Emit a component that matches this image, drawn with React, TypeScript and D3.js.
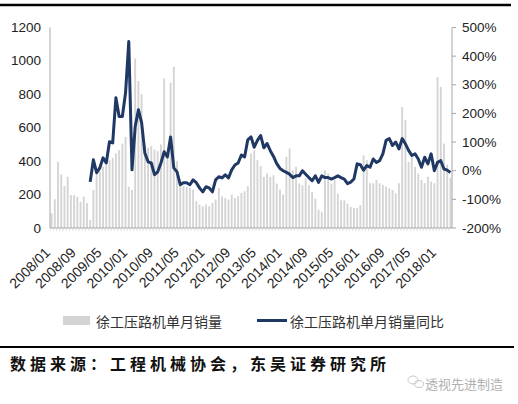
import React from 'react';
import * as d3 from 'd3';

// monthly sales of XCMG road rollers, 2008/01 - 2018/05
const sales2008 = [88, 172, 396, 322, 251, 306, 197, 197, 187, 157, 187, 149];
const sales2009 = [48, 227, 328, 340, 367, 377, 406, 420, 446, 466, 505, 545];
const sales2010 = [247, 228, 1015, 880, 800, 490, 480, 490, 470, 460, 500, 895];
const sales2011 = [455, 870, 965, 400, 260, 250, 245, 240, 230, 160, 140, 130];
const sales2012 = [140, 130, 150, 170, 240, 190, 180, 170, 200, 180, 190, 210];
const sales2013 = [220, 250, 446, 466, 406, 370, 306, 326, 306, 316, 266, 230];
const sales2014 = [200, 426, 476, 346, 366, 266, 256, 296, 256, 216, 176, 110];
const sales2015 = [97, 346, 326, 266, 286, 206, 166, 166, 146, 126, 120, 120];
const sales2016 = [137, 436, 406, 268, 268, 288, 268, 258, 248, 238, 228, 208];
const sales2017 = [268, 724, 645, 396, 426, 366, 326, 288, 268, 306, 278, 268];
const sales2018 = [903, 844, 505, 380, 300];

// year-on-year growth (%), from 2009/01
const yoy = [
  -39, 38, -7, 10, 45, 27, 101, 97, 255, 189, 189, 272,
  451, 3, 154, 213, 167, 62, 31, 27, -14, -4, 27, 66,
  48, 118, 10, -4, -49, -42, -42, -49, -32, -42, -60, -74,
  -56, -60, -74, -32, -21, -25, -14, -25, 3, 20, 27, 55,
  48, 108, 118, 82, 106, 123, 80, 95, 70, 50, 25, 8,
  0, -6, -12, -24, -18, -18, 0, -12, -24, -35, -18, -41,
  -18, -24, -24, -29, -24, -18, -24, -29, -45, -40, -29, 24,
  21, 2, 18, 12, 41, 29, 35, 59, 106, 112, 88, 100,
  76, 112, 94, 71, 53, 59, 41, 12, 47, 24, 59, 0,
  29, 35, 6, 2, -6,
];

const sales = [
  ...sales2008, ...sales2009, ...sales2010, ...sales2011, ...sales2012, ...sales2013,
  ...sales2014, ...sales2015, ...sales2016, ...sales2017, ...sales2018,
];

const months = sales.map((_, i) => {
  const y = 2008 + Math.floor(i / 12);
  const m = (i % 12) + 1;
  return `${y}/${m < 10 ? '0' + m : m}`;
});

const tickLabels = [
  '2008/01', '2008/09', '2009/05', '2010/01', '2010/09', '2011/05', '2012/01', '2012/09',
  '2013/05', '2014/01', '2014/09', '2015/05', '2016/01', '2016/09', '2017/05', '2018/01',
];
const leftTicks = [0, 200, 400, 600, 800, 1000, 1200];
const rightTicks = [-200, -100, 0, 100, 200, 300, 400, 500];

const barName = '徐工压路机单月销量';
const lineName = '徐工压路机单月销量同比';
const source = '数据来源：工程机械协会，东吴证券研究所';

const W = 518;
const H = 404;
const plot = { left: 50, right: 452, top: 27.5, bottom: 228 };

const App: React.FC = () => {
  const x = d3.scaleBand().domain(months).range([plot.left, plot.right]).paddingInner(0.42).paddingOuter(0.2);
  const yL = d3.scaleLinear().domain([0, 1200]).range([plot.bottom, plot.top]);
  const yR = d3.scaleLinear().domain([-200, 500]).range([plot.bottom, plot.top]);
  const cx = (m: string) => (x(m) || 0) + x.bandwidth() / 2;

  const lineData = yoy.map((v, i) => ({ m: months[12 + i], v }));
  const path = d3.line<{ m: string; v: number }>()
    .x(d => cx(d.m))
    .y(d => yR(d.v))(lineData) || '';

  const axisColor = '#a6a6a6';
  const font = 'Liberation Sans, Arial, sans-serif';
  const cjk = '"Noto Sans CJK SC", sans-serif';

  return (
    <svg width={W} height={H} style={{ position: 'absolute', left: 0, top: 0, background: '#fff' }}>
      {/* top rule */}
      <line x1={0} x2={511} y1={5} y2={5} stroke="#000" strokeWidth={2.5} />

      {/* bars */}
      {sales.map((v, i) => (
        <rect key={i} x={x(months[i])} y={yL(v)} width={x.bandwidth()} height={plot.bottom - yL(v)} fill="#d4d4d4" />
      ))}

      {/* axes */}
      <line x1={plot.left} x2={plot.left} y1={plot.top} y2={plot.bottom} stroke={axisColor} />
      <line x1={plot.right} x2={plot.right} y1={plot.top} y2={plot.bottom} stroke={axisColor} />
      <line x1={plot.left} x2={plot.right} y1={plot.bottom} y2={plot.bottom} stroke={axisColor} />
      {months.map(m => (
        <line key={m} x1={(x(m) || 0) - 0.5} x2={(x(m) || 0) - 0.5} y1={plot.bottom} y2={plot.bottom + 3}
          stroke="#cfcfcf" strokeWidth={0.6} />
      ))}

      {leftTicks.map(t => (
        <text key={t} x={41} y={yL(t)} textAnchor="end" dominantBaseline="central" fontSize={13.5} fontFamily={font} fill="#222">
          {t}
        </text>
      ))}
      {rightTicks.map(t => (
        <g key={t}>
          <line x1={plot.right} x2={plot.right + 4} y1={yR(t)} y2={yR(t)} stroke={axisColor} />
          <text x={462} y={yR(t)} dominantBaseline="central" fontSize={13.5} fontFamily={font} fill="#222">
            {`${t}%`}
          </text>
        </g>
      ))}

      {/* line */}
      <path d={path} fill="none" stroke="#1f3864" strokeWidth={3} strokeLinejoin="round" />

      {/* x labels */}
      {tickLabels.map(t => (
        <text key={t} transform={`translate(${cx(t) - 4},${plot.bottom + 22}) rotate(-45)`} textAnchor="end"
          dominantBaseline="central" fontSize={14} fontFamily={font} fill="#222">
          {t}
        </text>
      ))}

      {/* legend */}
      <rect x={63} y={316} width={27} height={9} fill="#d4d4d4" />
      <text x={96} y={321} dominantBaseline="central" fontSize={14} fontFamily={cjk} fill="#333">{barName}</text>
      <line x1={257} x2={287} y1={320.5} y2={320.5} stroke="#1f3864" strokeWidth={3} />
      <text x={290} y={321} dominantBaseline="central" fontSize={14} fontFamily={cjk} fill="#333">{lineName}</text>

      {/* bottom rule and source */}
      <line x1={0} x2={514} y1={347} y2={347} stroke="#000" strokeWidth={2} />
      <text x={10} y={363} dominantBaseline="central" fontSize={16} fontWeight="bold" letterSpacing={4}
        fontFamily={cjk} fill="#111">{source}</text>

      {/* watermark */}
      <g stroke="#c8c8c8" fill="none" strokeWidth={1}>
        <ellipse cx={413} cy={380} rx={5} ry={4} />
        <ellipse cx={419} cy={384} rx={4.5} ry={3.5} />
      </g>
      <text x={425} y={383} dominantBaseline="central" fontSize={13} fontFamily={cjk} fill="#b0b0b0">透视先进制造</text>
    </svg>
  );
};

export default App;
